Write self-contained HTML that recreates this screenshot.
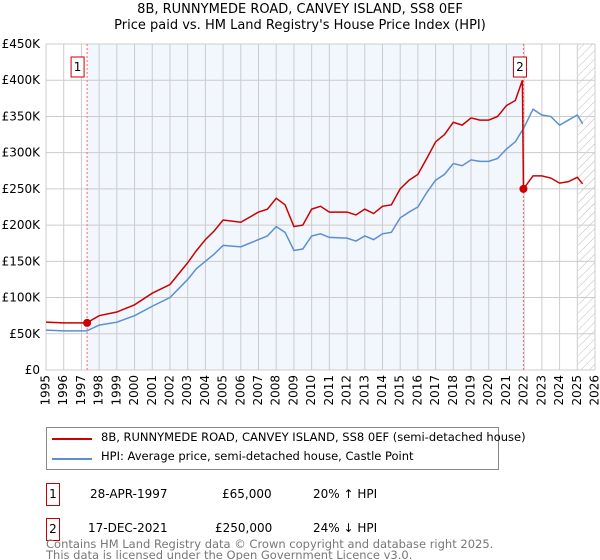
<!DOCTYPE html>
<html><head><meta charset="utf-8"><style>
body{margin:0;background:#fff;font-family:"DejaVu Sans","Liberation Sans",sans-serif;}
#wrap{position:relative;width:600px;height:560px;overflow:hidden;}
.t{position:absolute;font-size:12px;color:#000;white-space:nowrap}
.box{position:absolute;border:1px solid #c00;width:12px;height:21px;font-size:12px;text-align:center;line-height:21px}
</style></head><body><div id="wrap">
<div class="t" style="left:0;width:600px;text-align:center;top:2px;font-size:13px;line-height:16px">8B, RUNNYMEDE ROAD, CANVEY ISLAND, SS8 0EF<br>Price paid vs. HM Land Registry's House Price Index (HPI)</div>
<svg id="svg" width="600" height="420" style="position:absolute;left:0;top:0"></svg>
<div style="position:absolute;left:46px;top:427px;width:451px;height:41px;border:1px solid #888">
<div style="position:absolute;left:5px;top:10px;width:40px;height:2px;background:#c00"></div>
<div class="t" style="left:54px;top:2px;font-size:11.5px">8B, RUNNYMEDE ROAD, CANVEY ISLAND, SS8 0EF (semi-detached house)</div>
<div style="position:absolute;left:5px;top:30px;width:40px;height:2px;background:#5b8fd4"></div>
<div class="t" style="left:54px;top:21px;font-size:11.5px">HPI: Average price, semi-detached house, Castle Point</div>
</div>
<div class="box" style="left:46px;top:483px">1</div>
<div class="t" style="left:90px;top:487px">28-APR-1997</div>
<div class="t" style="left:222px;top:487px">£65,000</div>
<div class="t" style="left:313px;top:487px">20% ↑ HPI</div>
<div class="box" style="left:46px;top:518px">2</div>
<div class="t" style="left:88px;top:521px">17-DEC-2021</div>
<div class="t" style="left:215px;top:521px">£250,000</div>
<div class="t" style="left:313px;top:521px">24% ↓ HPI</div>
<div class="t" style="left:46px;top:539px;color:#777;font-size:11.5px;line-height:11px">Contains HM Land Registry data © Crown copyright and database right 2025.<br>This data is licensed under the Open Government Licence v3.0.</div>
</div>
<script>
const hpiYears=[1995,1996,1997.3,1998,1999,2000,2001,2002,2003,2003.5,2004,2004.5,2005,2006,2007,2007.5,2008,2008.5,2009,2009.5,2010,2010.5,2011,2012,2012.5,2013,2013.5,2014,2014.5,2015,2015.5,2016,2016.5,2017,2017.5,2018,2018.5,2019,2019.5,2020,2020.5,2021,2021.5,2022,2022.5,2023,2023.5,2024,2024.5,2025,2025.3];
const hpiValues=[55,54,54,62,66,75,88,100,125,140,150,160,172,170,180,185,198,190,165,167,185,188,183,182,178,185,180,188,190,210,218,225,245,262,270,285,282,290,288,288,292,305,315,335,360,352,350,338,345,352,340];
const priceYears=[1995,1996,1997.3,1998,1999,2000,2001,2002,2003,2003.5,2004,2004.5,2005,2006,2007,2007.5,2008,2008.5,2009,2009.5,2010,2010.5,2011,2012,2012.5,2013,2013.5,2014,2014.5,2015,2015.5,2016,2016.5,2017,2017.5,2018,2018.5,2019,2019.5,2020,2020.5,2021,2021.5,2021.9,2021.96,2022.5,2023,2023.5,2024,2024.5,2025,2025.3];
const priceValues=[66,65,65,75,80,90,106,118,148,165,180,192,207,204,218,222,237,228,198,200,222,226,218,218,214,222,216,226,228,250,262,270,292,315,325,342,338,348,345,345,350,365,372,400,250,268,268,265,258,260,266,257];
const saleYears=[1997.32,2021.96];
const saleValues=[65,250];
const yTicks=[0,50,100,150,200,250,300,350,400,450];
const yTickLabels=["£0","£50K","£100K","£150K","£200K","£250K","£300K","£350K","£400K","£450K"];
const xTicks=[1995,1996,1997,1998,1999,2000,2001,2002,2003,2004,2005,2006,2007,2008,2009,2010,2011,2012,2013,2014,2015,2016,2017,2018,2019,2020,2021,2022,2023,2024,2025,2026];
const X0=46,X1=595,Y0=370,Y1=44;
const xs=y=>X0+(y-1995)/(2026-1995)*(X1-X0);
const ys=v=>Y0-v/450*(Y0-Y1);
const svg=document.getElementById('svg');const NS='http://www.w3.org/2000/svg';
function mk(t,a){const e=document.createElementNS(NS,t);for(const k in a)e.setAttribute(k,a[k]);svg.appendChild(e);return e;}
let e=mk('rect',{x:xs(saleYears[0]),y:Y1,width:xs(saleYears[1])-xs(saleYears[0]),height:Y0-Y1,fill:'#f2f6fd'});


const defs=document.createElementNS(NS,'defs');defs.innerHTML='<pattern id="h" width="6" height="6" patternUnits="userSpaceOnUse" patternTransform="rotate(45)"><line x1="0" y1="0" x2="0" y2="6" stroke="#bbb" stroke-width="1"/></pattern>';svg.appendChild(defs);
e=mk('rect',{x:xs(2025.05),y:Y1,width:X1-xs(2025.05),height:Y0-Y1,fill:'url(#h)'});


xTicks.forEach(t=>{const l=mk('line',{x1:xs(t),x2:xs(t),y1:Y1,y2:Y0,stroke:'#ccc'});


const tx=mk('text',{x:0,y:0,'font-size':12,'text-anchor':'end','dominant-baseline':'middle',transform:`translate(${xs(t)},${Y0+5}) rotate(-90)`});tx.textContent=t;

});
yTicks.forEach((t,i)=>{const l=mk('line',{x1:X0,x2:X1,y1:ys(t),y2:ys(t),stroke:'#ccc'});


const tx=mk('text',{x:X0-6,y:ys(t)+4,'font-size':12,'text-anchor':'end'});tx.textContent=yTickLabels[i];

});
saleYears.forEach((s,i)=>{const l=mk('line',{x1:xs(s),x2:xs(s),y1:Y1,y2:Y0,stroke:'#f66','stroke-dasharray':'2,2'});


const r=mk('rect',{x:0,y:57,width:13,height:20,fill:'#fff',stroke:'#c00'});
r.setAttribute('x',xs(s)-(i?10:16));


const tx=mk('text',{x:xs(s)-(i?3.5:9.5),y:71,'font-size':12,'text-anchor':'middle'});tx.textContent=i+1;

});
function line(xa,va,c,n){const p=mk('polyline',{points:xa.map((x,i)=>xs(x)+','+ys(va[i])).join(' '),fill:'none',stroke:c,'stroke-width':1.5});

}
line(hpiYears,hpiValues,'#5b8fd4','hpi-line');
line(priceYears,priceValues,'#cc0000','price-line');
saleYears.forEach((s,i)=>{const c=mk('circle',{cx:xs(s),cy:ys(saleValues[i]),r:4,fill:'#cc0000'});

});
</script></body></html>
